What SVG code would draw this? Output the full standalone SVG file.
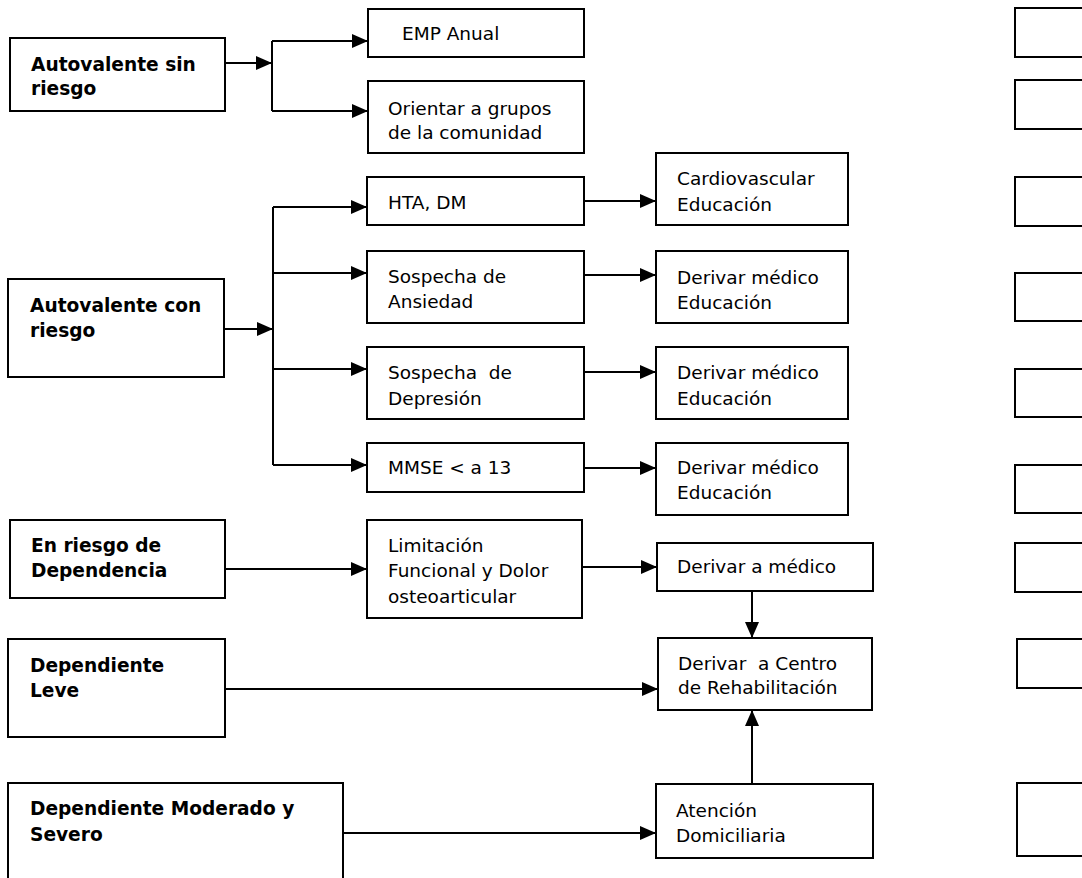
<svg xmlns="http://www.w3.org/2000/svg" width="1082" height="878" viewBox="0 0 1082 878">
<defs>
<style>
.box{fill:#fff;stroke:#000;stroke-width:2}
.ln{fill:none;stroke:#000;stroke-width:2}
.ar{fill:none;stroke:#000;stroke-width:2;marker-end:url(#ah)}
.b{font-family:"DejaVu Sans",Verdana,sans-serif;font-size:18.6px;font-weight:bold;fill:#000}
.t{font-family:"DejaVu Sans",Verdana,sans-serif;font-size:18.5px;fill:#000}
</style>
<marker id="ah" markerUnits="userSpaceOnUse" markerWidth="16" markerHeight="14" refX="16" refY="7" orient="auto">
<path d="M0,0 L16,7 L0,14 z" fill="#000"/>
</marker>
</defs>
<rect width="1082" height="878" fill="#fff"/>

<g id="connectors">
<line class="ar" x1="225" y1="63" x2="272" y2="63"/>
<line class="ln" x1="272" y1="41" x2="272" y2="111"/>
<line class="ar" x1="272" y1="41" x2="368" y2="41"/>
<line class="ar" x1="272" y1="111" x2="368" y2="111"/>

<line class="ar" x1="224" y1="329" x2="273" y2="329"/>
<line class="ln" x1="273" y1="207" x2="273" y2="465"/>
<line class="ar" x1="273" y1="207" x2="367" y2="207"/>
<line class="ar" x1="273" y1="273" x2="367" y2="273"/>
<line class="ar" x1="273" y1="369" x2="367" y2="369"/>
<line class="ar" x1="273" y1="465" x2="367" y2="465"/>

<line class="ar" x1="584" y1="201" x2="656" y2="201"/>
<line class="ar" x1="584" y1="275" x2="656" y2="275"/>
<line class="ar" x1="584" y1="372" x2="656" y2="372"/>
<line class="ar" x1="584" y1="468" x2="656" y2="468"/>

<line class="ar" x1="225" y1="569" x2="367" y2="569"/>
<line class="ar" x1="582" y1="567" x2="657" y2="567"/>
<line class="ar" x1="752" y1="591" x2="752" y2="638"/>
<line class="ar" x1="225" y1="689" x2="658" y2="689"/>
<line class="ar" x1="343" y1="833" x2="656" y2="833"/>
<line class="ar" x1="752" y1="784" x2="752" y2="710"/>
</g>

<g id="n-autovalente-sin-riesgo">
<rect class="box" x="10" y="38" width="215" height="73"/>
<text class="b" x="31" y="71">Autovalente sin</text>
<text class="b" x="31" y="95">riesgo</text>
</g>
<g id="n-autovalente-con-riesgo">
<rect class="box" x="8" y="279" width="216" height="98"/>
<text class="b" x="30" y="312">Autovalente con</text>
<text class="b" x="30" y="337">riesgo</text>
</g>
<g id="n-en-riesgo-dependencia">
<rect class="box" x="10" y="520" width="215" height="78"/>
<text class="b" x="31" y="552">En riesgo de</text>
<text class="b" x="31" y="577">Dependencia</text>
</g>
<g id="n-dependiente-leve">
<rect class="box" x="8" y="639" width="217" height="98"/>
<text class="b" x="30" y="672">Dependiente</text>
<text class="b" x="30" y="697">Leve</text>
</g>
<g id="n-dependiente-moderado">
<rect class="box" x="8" y="783" width="335" height="110"/>
<text class="b" x="30" y="815">Dependiente Moderado y</text>
<text class="b" x="30" y="841">Severo</text>
</g>

<g id="n-emp-anual">
<rect class="box" x="368" y="9" width="216" height="48"/>
<text class="t" x="402" y="40">EMP Anual</text>
</g>
<g id="n-orientar">
<rect class="box" x="368" y="81" width="216" height="72"/>
<text class="t" x="388" y="115">Orientar a grupos</text>
<text class="t" x="388" y="139">de la comunidad</text>
</g>
<g id="n-hta-dm">
<rect class="box" x="367" y="177" width="217" height="48"/>
<text class="t" x="388" y="209">HTA, DM</text>
</g>
<g id="n-ansiedad">
<rect class="box" x="367" y="251" width="217" height="72"/>
<text class="t" x="388" y="283">Sospecha de</text>
<text class="t" x="388" y="308">Ansiedad</text>
</g>
<g id="n-depresion">
<rect class="box" x="367" y="347" width="217" height="72"/>
<text class="t" x="388" y="379" xml:space="preserve">Sospecha  de</text>
<text class="t" x="388" y="405">Depresión</text>
</g>
<g id="n-mmse">
<rect class="box" x="367" y="443" width="217" height="49"/>
<text class="t" x="388" y="474">MMSE &lt; a 13</text>
</g>
<g id="n-limitacion">
<rect class="box" x="367" y="520" width="215" height="98"/>
<text class="t" x="388" y="552">Limitación</text>
<text class="t" x="388" y="577">Funcional y Dolor</text>
<text class="t" x="388" y="603">osteoarticular</text>
</g>

<g id="n-cardiovascular">
<rect class="box" x="656" y="153" width="192" height="72"/>
<text class="t" x="677" y="185">Cardiovascular</text>
<text class="t" x="677" y="211">Educación</text>
</g>
<g id="n-derivar-1">
<rect class="box" x="656" y="251" width="192" height="72"/>
<text class="t" x="677" y="284">Derivar médico</text>
<text class="t" x="677" y="309">Educación</text>
</g>
<g id="n-derivar-2">
<rect class="box" x="656" y="347" width="192" height="72"/>
<text class="t" x="677" y="379">Derivar médico</text>
<text class="t" x="677" y="405">Educación</text>
</g>
<g id="n-derivar-3">
<rect class="box" x="656" y="443" width="192" height="72"/>
<text class="t" x="677" y="474">Derivar médico</text>
<text class="t" x="677" y="499">Educación</text>
</g>
<g id="n-derivar-medico">
<rect class="box" x="657" y="543" width="216" height="48"/>
<text class="t" x="677" y="573">Derivar a médico</text>
</g>
<g id="n-centro-rehab">
<rect class="box" x="658" y="638" width="214" height="72"/>
<text class="t" x="678" y="670" xml:space="preserve">Derivar  a Centro</text>
<text class="t" x="678" y="694">de Rehabilitación</text>
</g>
<g id="n-atencion">
<rect class="box" x="656" y="784" width="217" height="74"/>
<text class="t" x="676" y="817">Atención</text>
<text class="t" x="676" y="842">Domiciliaria</text>
</g>

<g id="n-right-1"><rect class="box" x="1015" y="8" width="90" height="49"/></g>
<g id="n-right-2"><rect class="box" x="1015" y="80" width="90" height="49"/></g>
<g id="n-right-3"><rect class="box" x="1015" y="177" width="90" height="49"/></g>
<g id="n-right-4"><rect class="box" x="1015" y="273" width="90" height="48"/></g>
<g id="n-right-5"><rect class="box" x="1015" y="369" width="90" height="48"/></g>
<g id="n-right-6"><rect class="box" x="1015" y="465" width="90" height="48"/></g>
<g id="n-right-7"><rect class="box" x="1015" y="543" width="90" height="49"/></g>
<g id="n-right-8"><rect class="box" x="1017" y="639" width="90" height="49"/></g>
<g id="n-right-9"><rect class="box" x="1017" y="783" width="90" height="73"/></g>
</svg>
